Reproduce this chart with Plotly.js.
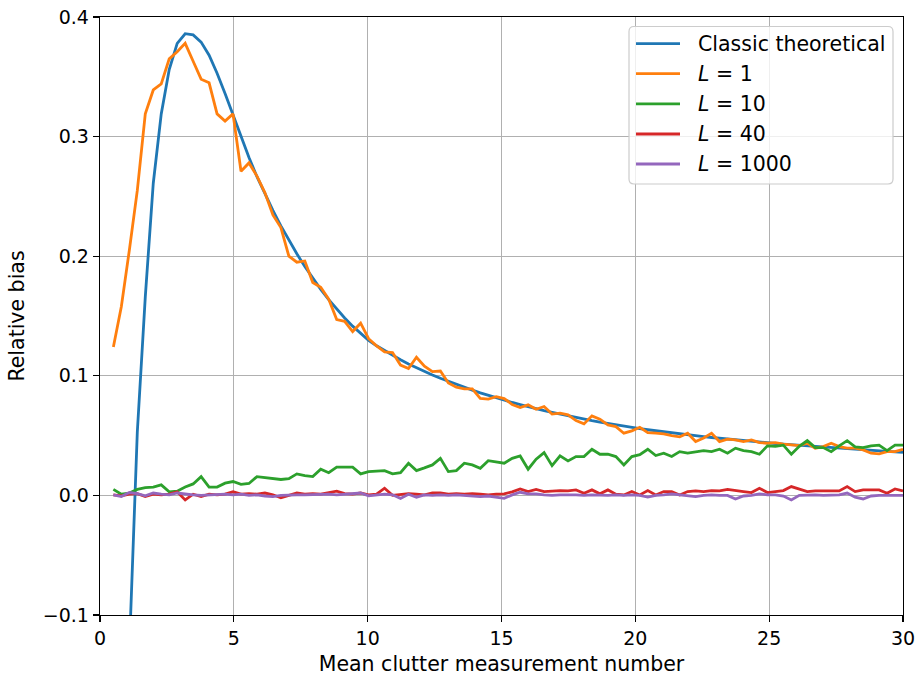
<!DOCTYPE html>
<html>
<head>
<meta charset="utf-8">
<script src="https://cdn.plot.ly/plotly-3.0.1.min.js"></script>
<style>html,body{margin:0;padding:0;background:#fff;}#chart{width:918px;height:678px;}</style>
</head>
<body>
<div id="chart"></div>
<script>
const xVals = [0.500,0.798,1.096,1.394,1.692,1.990,2.288,2.586,2.884,3.182,3.480,3.778,4.076,4.374,4.672,4.970,5.268,5.566,5.864,6.162,6.460,6.758,7.056,7.354,7.652,7.949,8.247,8.545,8.843,9.141,9.439,9.737,10.035,10.333,10.631,10.929,11.227,11.525,11.823,12.121,12.419,12.717,13.015,13.313,13.611,13.909,14.207,14.505,14.803,15.101,15.399,15.697,15.995,16.293,16.591,16.889,17.187,17.485,17.783,18.081,18.379,18.677,18.975,19.273,19.571,19.869,20.167,20.465,20.763,21.061,21.359,21.657,21.955,22.253,22.551,22.848,23.146,23.444,23.742,24.040,24.338,24.636,24.934,25.232,25.530,25.828,26.126,26.424,26.722,27.020,27.318,27.616,27.914,28.212,28.510,28.808,29.106,29.404,29.702,30.000];

const classicTheoretical = [-0.6,-0.32,-0.13,0.053,0.166,0.261,0.319,0.356,0.378,0.386,0.385,0.379,0.368,0.353,0.336,0.318,0.299,0.2825,0.2665,0.2520,0.2383,0.2254,0.2133,0.2020,0.1914,0.1815,0.1723,0.1637,0.1557,0.1483,0.1415,0.1353,0.1297,0.1251,0.1210,0.1171,0.1134,0.1099,0.1067,0.1036,0.1007,0.0979,0.0953,0.0927,0.0903,0.0880,0.0857,0.0836,0.0815,0.0795,0.0777,0.0759,0.0741,0.0725,0.0709,0.0694,0.0679,0.0665,0.0651,0.0638,0.0625,0.0613,0.0601,0.0589,0.0579,0.0568,0.0558,0.0549,0.0540,0.0531,0.0522,0.0514,0.0506,0.0498,0.0491,0.0484,0.0477,0.0470,0.0464,0.0458,0.0452,0.0445,0.0440,0.0434,0.0428,0.0423,0.0418,0.0412,0.0408,0.0403,0.0398,0.0393,0.0389,0.0385,0.0380,0.0376,0.0372,0.0368,0.0364,0.0360];

const biasL1 = [0.124,0.158,0.205,0.255,0.319,0.339,0.344,0.365,0.371,0.378,0.363,0.348,0.345,0.319,0.313,0.319,0.271,0.278,0.267,0.253,0.2345,0.224,0.200,0.195,0.196,0.178,0.174,0.164,0.147,0.1455,0.137,0.144,0.131,0.125,0.120,0.1195,0.109,0.106,0.1155,0.108,0.1035,0.104,0.094,0.0905,0.089,0.089,0.081,0.0805,0.0826,0.081,0.076,0.0734,0.0757,0.072,0.0743,0.068,0.0687,0.0673,0.0626,0.0598,0.0665,0.0637,0.059,0.0575,0.052,0.054,0.057,0.0525,0.052,0.0514,0.050,0.049,0.052,0.045,0.048,0.052,0.045,0.047,0.0464,0.045,0.0464,0.0442,0.0436,0.0442,0.0428,0.0422,0.0416,0.0436,0.0395,0.0408,0.0436,0.0408,0.0395,0.0395,0.038,0.0353,0.0347,0.0366,0.0366,0.0386];

const biasL10 = [0.005,0.001,0.002,0.005,0.0065,0.007,0.0088,0.003,0.0035,0.007,0.0096,0.0157,0.007,0.007,0.0102,0.0116,0.0093,0.010,0.0157,0.015,0.014,0.0133,0.014,0.018,0.0165,0.0157,0.0219,0.019,0.0236,0.0236,0.0236,0.018,0.0199,0.0203,0.0207,0.018,0.019,0.0269,0.0207,0.023,0.0255,0.031,0.0199,0.0207,0.0269,0.0255,0.0227,0.029,0.028,0.0269,0.031,0.033,0.0219,0.0303,0.0358,0.0249,0.033,0.0288,0.0325,0.0325,0.0386,0.0344,0.0344,0.0325,0.0255,0.0325,0.034,0.0386,0.0333,0.0353,0.0325,0.0366,0.0353,0.0366,0.0375,0.0366,0.0386,0.0353,0.0395,0.0375,0.0366,0.0344,0.0414,0.041,0.042,0.0344,0.041,0.0458,0.040,0.040,0.0366,0.0414,0.0458,0.0405,0.040,0.0414,0.042,0.0375,0.042,0.042];

const biasL40 = [0.0004,-0.0004,0.001,0.0015,-0.001,0.001,0.0005,0.001,0.003,-0.0038,0.001,-0.001,0.001,0.0005,0.001,0.003,0.001,0.0015,0.001,0.002,0.0005,-0.002,0,0.002,0.001,0.0015,0.001,0.002,0.0035,0.0015,0.001,0.002,0.0005,0.001,0.006,0,0.001,0.0015,0.001,0.0005,0.002,0.002,0.001,0.0015,0.001,0.0015,0.001,0.0005,0.001,0.0013,0.003,0.0054,0.0032,0.005,0.0032,0.0038,0.004,0.0038,0.0046,0.0018,0.0046,0.0013,0.0046,0.001,0.0004,0.0032,0.0004,0.004,0.0004,0.0032,0.0032,0.0004,0.0032,0.0038,0.0032,0.004,0.0038,0.005,0.0038,0.0032,0.0024,0.006,0.0024,0.0032,0.004,0.0074,0.005,0.0032,0.0038,0.0038,0.0036,0.0038,0.0074,0.0032,0.0046,0.0044,0.0046,0.0018,0.0054,0.0038];

const biasL1000 = [0.0004,-0.001,0.0024,0.0015,-0.0004,0.002,0.001,0.0004,0.002,0.001,0.0005,0,0.0005,0.001,0.001,0.0005,0.001,0,0.0005,-0.0005,-0.001,0,0.0005,0.0004,0.0004,0.0008,0.001,0.001,0.0005,0.001,0.0015,0.002,-0.0004,0.0005,0.001,0.0005,-0.0025,0.001,-0.0015,0.0005,0,0.0005,0,0.0005,0,-0.0005,-0.001,-0.0005,-0.0015,-0.0024,0.0004,0.0026,0.0013,0.0013,0.0005,0,0.0005,0.0008,0.0005,0,0.0005,0.0003,0,0.0005,0,0.0005,0,-0.0015,0,0.0005,0.0013,0.0005,0,-0.001,0,0.0005,0,0,-0.003,-0.0005,0,0.0013,0.0005,0.0005,-0.0005,-0.0038,0,0.0005,0.0005,0,0,0.0005,0.002,-0.0015,-0.003,-0.0005,0,0,0,0];

const seriesNames = ['Classic theoretical', '<i>L</i> = 1', '<i>L</i> = 10', '<i>L</i> = 40', '<i>L</i> = 1000'];
const seriesData = [classicTheoretical, biasL1, biasL10, biasL40, biasL1000];
const colors = ['#1f77b4', '#ff7f0e', '#2ca02c', '#d62728', '#9467bd'];

const xTicks = [0, 5, 10, 15, 20, 25, 30];
const yTicks = [-0.1, 0.0, 0.1, 0.2, 0.3, 0.4];
const yTickText = ['\u22120.1', '0.0', '0.1', '0.2', '0.3', '0.4'];

const traces = seriesData.map((ys, k) => ({
  x: xVals, y: ys, type: 'scatter', mode: 'lines', name: seriesNames[k],
  line: {color: colors[k], width: 2.8}, showlegend: false
}));

// --- layout geometry (pixels) ---
const W = 918, H = 678, ML = 100, MR = 15, MT = 17, MB = 63;
const PW = W - ML - MR, PH = H - MT - MB;
const px2x = p => (p - ML) / PW;
const py2y = p => (H - MB - p) / PH;

// custom legend box (matplotlib style)
const LB = {left: 629, right: 893, top: 26.5, bottom: 184, r: 5};
const rowY = [43.7, 73.7, 103.9, 134, 164];
const lineX0 = 636, lineX1 = 680, textX = 696;

function roundedRectPath(b) {
  const x0 = px2x(b.left), x1 = px2x(b.right), y0 = py2y(b.bottom), y1 = py2y(b.top);
  const rx = b.r / PW, ry = b.r / PH;
  return `M ${x0 + rx} ${y1} L ${x1 - rx} ${y1} Q ${x1} ${y1} ${x1} ${y1 - ry} ` +
         `L ${x1} ${y0 + ry} Q ${x1} ${y0} ${x1 - rx} ${y0} L ${x0 + rx} ${y0} ` +
         `Q ${x0} ${y0} ${x0} ${y0 + ry} L ${x0} ${y1 - ry} Q ${x0} ${y1} ${x0 + rx} ${y1} Z`;
}

const FONT = 'DejaVu Sans, sans-serif';
const shapes = [{
  type: 'path', xref: 'paper', yref: 'paper', layer: 'above',
  path: roundedRectPath(LB), fillcolor: 'rgba(255,255,255,0.8)',
  line: {color: '#cccccc', width: 1.2}
}];
const annotations = [];
seriesNames.forEach((name, k) => {
  shapes.push({
    type: 'line', xref: 'paper', yref: 'paper', layer: 'above',
    x0: px2x(lineX0), x1: px2x(lineX1), y0: py2y(rowY[k]), y1: py2y(rowY[k]),
    line: {color: colors[k], width: 2.8}
  });
  annotations.push({
    xref: 'paper', yref: 'paper', x: px2x(textX), y: py2y(rowY[k]),
    xanchor: 'left', yanchor: 'middle', showarrow: false, text: name,
    font: {family: FONT, size: 20.5, color: '#000'}
  });
});

const layout = {
  width: W, height: H,
  margin: {l: ML, r: MR, t: MT, b: MB},
  paper_bgcolor: '#fff', plot_bgcolor: '#fff',
  font: {family: FONT, size: 19, color: '#000'},
  showlegend: false,
  shapes: shapes,
  annotations: annotations,
  xaxis: {
    range: [0, 30], tickvals: xTicks, ticktext: xTicks.map(String),
    showgrid: true, gridcolor: '#b0b0b0', gridwidth: 1.3,
    showline: true, linecolor: '#000', linewidth: 1.3, mirror: true,
    ticks: 'outside', ticklen: 6, tickwidth: 1.3, tickcolor: '#000',
    zeroline: false, tickfont: {family: FONT, size: 19},
    title: {text: 'Mean clutter measurement number', font: {family: FONT, size: 20.5}, standoff: 8},
    automargin: false
  },
  yaxis: {
    range: [-0.1, 0.4], tickvals: yTicks, ticktext: yTickText,
    showgrid: true, gridcolor: '#b0b0b0', gridwidth: 1.3,
    showline: true, linecolor: '#000', linewidth: 1.3, mirror: true,
    ticks: 'outside', ticklen: 6, tickwidth: 1.3, tickcolor: '#000',
    zeroline: false, tickfont: {family: FONT, size: 19},
    title: {text: 'Relative bias', font: {family: FONT, size: 20.5}, standoff: 12},
    automargin: false
  }
};

Plotly.newPlot('chart', traces, layout, {displayModeBar: false, staticPlot: true});
</script>
</body>
</html>
